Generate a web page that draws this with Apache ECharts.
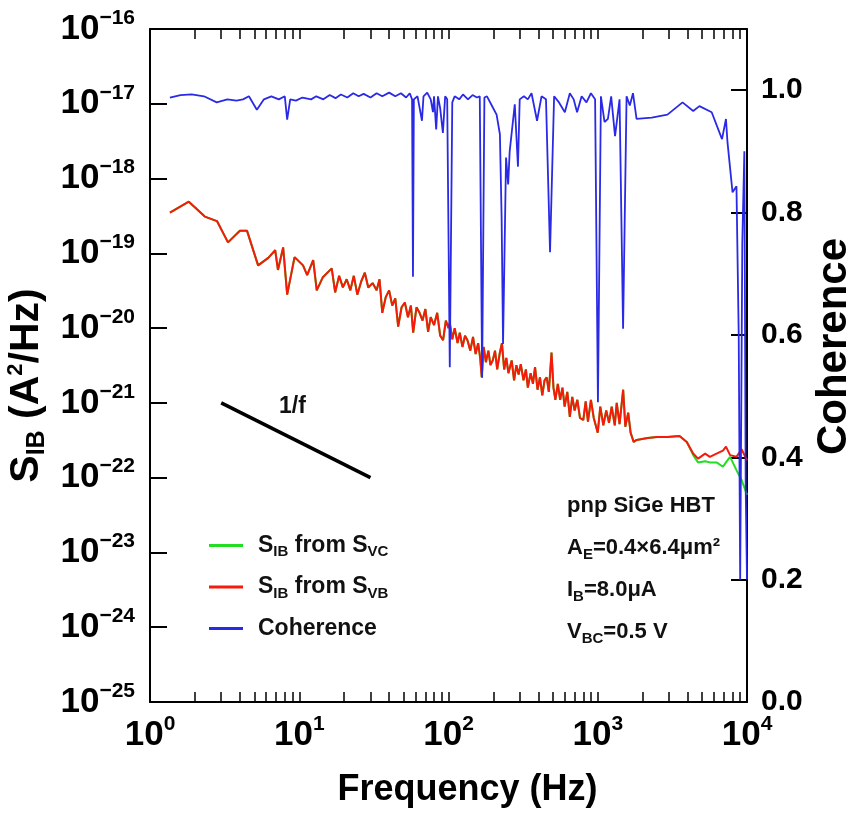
<!DOCTYPE html>
<html><head><meta charset="utf-8">
<script src="https://cdn.jsdelivr.net/npm/echarts@6/dist/echarts.min.js"></script>
<style>html,body{margin:0;padding:0;background:#fff}#c{width:850px;height:819px}</style>
</head><body><div id="c"></div>
<script>
// ---- data ----
const freqS = [
  1.36,1.82,2.33,2.81,3.33,4.0,4.47,5.3,6.2,6.9,7.2,7.8,8.3,9.3,10.6,11.3,12.4,13.1,14.4,16.5,17.4,
  18.5,19.6,20.8,22,23.2,24.5,26,27.5,29,31,
  33,34.5,36,38,40,42,44,46,48.5,51,
  53.5,56,58,61,64,67,70,73,76,80,
  84,88,92,96,100,
  102,106,110,115,119,124,129,134,140,146,
  152,158,163,167,172,178,185,191,198,205,
  212,220,228,236,244,252,265,275,285,295,
  305,318,330,340,355,368,380,395,410,425,
  440,455,470,490,505,520,540,560,580,600,
  625,650,675,700,730,760,800,830,860,900,
  940,1000,1040,1090,1140,1190,1240,1300,1340,1400,
  1480,1530,1600,1660,1740,
  1820,2160,2500,2930,3530,3950,4360,4700,5240,5640,6250,6900,7230,7700,8500,9200,10000
];
const sibFromSvb = [
  3.5e-19,4.9e-19,3.1e-19,2.7e-19,1.4e-19,2.0e-19,2.0e-19,6.9e-20,8.7e-20,1.1e-19,6.0e-20,1.2e-19,2.8e-20,8.9e-20,6.9e-20,5.1e-20,8.1e-20,3.2e-20,4.8e-20,6.3e-20,3.0e-20,
  5.0e-20,3.5e-20,4.5e-20,3.2e-20,5.0e-20,2.8e-20,4.2e-20,5.5e-20,3.5e-20,4.0e-20,
  3.2e-20,4.5e-20,1.6e-20,2.6e-20,3.2e-20,2.0e-20,2.5e-20,1.05e-20,1.9e-20,2.2e-20,
  1.4e-20,2.0e-20,8.7e-21,1.9e-20,1.6e-20,1.26e-20,1.8e-20,8.9e-21,1.4e-20,1.1e-20,
  1.6e-20,7.9e-21,6.9e-21,1.26e-20,1.0e-20,
  1.17e-20,7.1e-21,1.0e-20,6.3e-21,8.7e-21,5.6e-21,7.9e-21,6.9e-21,5.0e-21,7.6e-21,
  4.5e-21,6.3e-21,4.0e-21,2.2e-21,5.6e-21,3.5e-21,5.0e-21,3.2e-21,3.7e-21,5.0e-21,
  2.8e-21,4.5e-21,6.3e-21,2.8e-21,4.0e-21,2.5e-21,3.7e-21,2.0e-21,3.2e-21,2.4e-21,
  3.3e-21,2.0e-21,2.8e-21,1.6e-21,2.5e-21,1.8e-21,3.0e-21,1.5e-21,2.2e-21,1.26e-21,
  2.0e-21,2.2e-21,1.4e-21,4.7e-21,1.6e-21,1.1e-21,1.8e-21,1.1e-21,1.6e-21,8.9e-22,
  1.4e-21,6.5e-22,1.2e-21,7.9e-22,1.1e-21,6.3e-22,5.9e-22,1.05e-21,5.6e-22,1.1e-21,
  6.3e-22,4.0e-22,8.9e-22,5.0e-22,7.9e-22,5.4e-22,8.9e-22,5.0e-22,1.0e-21,5.2e-22,
  1.5e-21,4.8e-22,7.4e-22,4.0e-22,3.0e-22,
  3.2e-22,3.4e-22,3.5e-22,3.5e-22,3.6e-22,3.0e-22,2.1e-22,1.8e-22,2.1e-22,1.9e-22,2.1e-22,2.3e-22,2.6e-22,2.0e-22,1.9e-22,2.4e-22,1.7e-22
];
// S_IB from S_VC follows the S_VB curve except for its last 11 points
const sibFromSvcTail = [2.0e-22,1.6e-22,1.66e-22,1.6e-22,1.6e-22,1.4e-22,1.6e-22,1.9e-22,1.26e-22,9.3e-23,5.9e-23];

const freqC = [
  1.36,1.6,1.9,2.3,2.8,3.3,3.8,4.2,4.6,5.2,
  5.8,6.5,7.3,8.0,8.3,8.7,9.5,10.5,12,13,
  14.5,16,17.5,19,21,23,25,27,30,33,
  36,40,44,48,52,55,57,57.8,58.6,62,
  66.4,68,72,76,78.7,80,82.7,85,88,91.7,
  95,98,102,106,110,118,125,135,145,155,
  162,168,174,181,195,210,221,227,232,243,
  251,257,278,292,300,320,340,360,392,420,
  450,479,510,550,602,650,690,727,780,840,
  900,960,1003,1050,1110,1170,1230,1306,1400,1478,
  1560,1640,1722,1820,2300,2930,3700,4360,4800,5800,
  6800,7230,7400,8000,8500,8800,9000,9300,9600,9800,
  10000
];
const coherence = [
  0.988,0.992,0.993,0.99,0.98,0.985,0.983,0.985,0.99,0.968,
  0.985,0.99,0.985,0.99,0.952,0.985,0.983,0.988,0.985,0.99,
  0.985,0.992,0.987,0.993,0.988,0.995,0.99,0.994,0.988,0.995,
  0.99,0.996,0.99,0.995,0.988,0.995,0.985,0.695,0.985,0.99,
  0.95,0.99,0.996,0.985,0.964,0.99,0.936,0.99,0.97,0.93,
  0.99,0.985,0.547,0.98,0.99,0.985,0.993,0.985,0.992,0.988,
  0.99,0.53,0.988,0.99,0.975,0.96,0.928,0.79,0.585,0.89,
  0.846,0.90,0.977,0.875,0.985,0.99,0.985,0.995,0.95,0.99,
  0.985,0.735,0.99,0.98,0.964,0.995,0.985,0.964,0.99,0.98,
  0.995,0.985,0.49,0.99,0.948,0.953,0.99,0.925,0.985,0.61,
  0.99,0.975,0.995,0.953,0.955,0.96,0.98,0.966,0.974,0.964,
  0.92,0.953,0.915,0.833,0.843,0.6,0.2,0.75,0.9,0.35,
  0.2
];
const oneOverF = [[3, 1e-21], [30, 1e-22]];

const xTickValues = [1,2,3,4,5,6,7,8,9,10,20,30,40,50,60,70,80,90,100,200,300,400,500,600,700,800,900,1000,2000,3000,4000,5000,6000,7000,8000,9000,10000];
const xLabelValues = [1,10,100,1000,10000];
const yLabelValues = [1e-25,1e-24,1e-23,1e-22,1e-21,1e-20,1e-19,1e-18,1e-17,1e-16];
const cohTicks = {min: 0, max: 1.1, interval: 0.2};

// ---- build ----
const sibFromSvc = sibFromSvb.slice(0, sibFromSvb.length - sibFromSvcTail.length).concat(sibFromSvcTail);
const pairs = (xs, ys) => xs.map((x, i) => [x, ys[i]]);

const FONT = '"Liberation Sans",Arial,sans-serif';
const expRich = {
  b: {fontFamily: FONT, fontWeight: 'bold', fontSize: 35, color: '#000'},
  s: {fontFamily: FONT, fontWeight: 'bold', fontSize: 21, color: '#000', padding: [0, 0, 22, 0]}
};
const expFmt = v => {
  const e = Math.round(Math.log10(v));
  return '{b|10}{s|' + (e < 0 ? '\u2212' + (-e) : e) + '}';
};

const chart = echarts.init(document.getElementById('c'), null, {renderer: 'canvas'});
const black = {color: '#000', width: 2};
const legendRich = {
  m: {fontFamily: FONT, fontWeight: 'bold', fontSize: 23, color: '#111'},
  s: {fontFamily: FONT, fontWeight: 'bold', fontSize: 15, color: '#111', padding: [13, 0, 0, 0]}
};
const annRich = {
  m: {fontFamily: FONT, fontWeight: 'bold', fontSize: 22, fill: '#111'},
  s: {fontFamily: FONT, fontWeight: 'bold', fontSize: 15, fill: '#111', padding: [13, 0, 0, 0]}
};

chart.setOption({
  animation: false,
  backgroundColor: '#fff',
  grid: {left: 150, right: 103, top: 29, bottom: 117, containLabel: false, outerBoundsMode: 'none'},
  legend: {
    orient: 'vertical', left: 204, top: 529, itemWidth: 34, itemHeight: 3, itemGap: 16,
    icon: 'rect',
    data: ['svc', 'svb', 'coh'],
    formatter: n => n === 'svc' ? '{m|S}{s|IB}{m| from S}{s|VC}' : n === 'svb' ? '{m|S}{s|IB}{m| from S}{s|VB}' : '{m|Coherence}',
    textStyle: {rich: legendRich, padding: [0, 0, 0, 10]}
  },
  xAxis: [{
    type: 'log', logBase: 10, min: 1, max: 10000, position: 'bottom',
    axisLine: {show: true, onZero: false, lineStyle: black},
    axisTick: {show: true, inside: true, length: 10, customValues: xTickValues, lineStyle: {color: '#000', width: 1.5}},
    axisLabel: {customValues: xLabelValues, margin: 12, formatter: expFmt, rich: expRich},
    splitLine: {show: false},
    name: 'Frequency (Hz)', nameLocation: 'middle', nameGap: 70,
    nameTextStyle: {fontFamily: FONT, fontWeight: 'bold', fontSize: 36, color: '#000', padding: [0, 0, 0, 38]}
  }, {
    type: 'log', logBase: 10, min: 1, max: 10000, position: 'top',
    axisLine: {show: true, onZero: false, lineStyle: black},
    axisTick: {show: true, inside: true, length: 10, customValues: xTickValues, lineStyle: {color: '#000', width: 1.5}},
    axisLabel: {show: false},
    splitLine: {show: false}
  }],
  yAxis: [{
    type: 'log', logBase: 10, min: 1e-25, max: 1e-16, position: 'left',
    axisLine: {show: true, onZero: false, lineStyle: black},
    axisTick: {show: true, inside: true, length: 17, customValues: yLabelValues, lineStyle: {color: '#000', width: 2}},
    axisLabel: {customValues: yLabelValues, margin: 15, formatter: expFmt, rich: expRich},
    splitLine: {show: false},
    name: '{b|S}{s|IB}{b| (A}{p|2}{b|/Hz)}', nameLocation: 'middle', nameRotate: 90, nameGap: 94,
    nameTextStyle: {padding: [0, 40, 0, 0], rich: {
      b: {fontFamily: FONT, fontWeight: 'bold', fontSize: 41, color: '#000'},
      s: {fontFamily: FONT, fontWeight: 'bold', fontSize: 25, color: '#000', padding: [20, 0, 0, 0]},
      p: {fontFamily: FONT, fontWeight: 'bold', fontSize: 22, color: '#000', padding: [0, 0, 22, 0]}
    }}
  }, {
    type: 'value', min: cohTicks.min, max: cohTicks.max, interval: cohTicks.interval, position: 'right',
    axisLine: {show: true, onZero: false, lineStyle: black},
    axisTick: {show: true, inside: true, length: 16, lineStyle: {color: '#000', width: 2}},
    axisLabel: {margin: 14, showMaxLabel: false, formatter: v => v.toFixed(1),
      fontFamily: FONT, fontWeight: 'bold', fontSize: 30, color: '#000'},
    splitLine: {show: false},
    name: 'Coherence', nameLocation: 'middle', nameRotate: 90, nameGap: 66,
    nameTextStyle: {fontFamily: FONT, fontWeight: 'bold', fontSize: 42, color: '#000', padding: [0, 0, 0, 38]}
  }],
  graphic: [
    {type: 'text', left: 279, top: 395, style: {text: '1/f', font: 'bold 23px ' + FONT, fill: '#111'}},
    {type: 'text', left: 567, top: 495, style: {text: '{m|pnp SiGe HBT}', rich: annRich}},
    {type: 'text', left: 567, top: 537, style: {text: '{m|A}{s|E}{m|=0.4\u00d76.4\u03bcm\u00b2}', rich: annRich}},
    {type: 'text', left: 567, top: 579, style: {text: '{m|I}{s|B}{m|=8.0\u03bcA}', rich: annRich}},
    {type: 'text', left: 567, top: 621, style: {text: '{m|V}{s|BC}{m|=0.5 V}', rich: annRich}}
  ],
  series: [
    {name: 'svc', type: 'line', xAxisIndex: 0, yAxisIndex: 0, data: pairs(freqS, sibFromSvc),
      showSymbol: false, lineStyle: {color: '#22dd22', width: 2}, itemStyle: {color: '#22dd22'}, z: 2},
    {name: 'svb', type: 'line', xAxisIndex: 0, yAxisIndex: 0, data: pairs(freqS, sibFromSvb),
      showSymbol: false, lineStyle: {color: '#f51a0a', width: 2}, itemStyle: {color: '#f51a0a'}, z: 3},
    {name: 'coh', type: 'line', xAxisIndex: 0, yAxisIndex: 1, data: pairs(freqC, coherence),
      showSymbol: false, lineStyle: {color: '#2a2ae6', width: 1.8}, itemStyle: {color: '#2a2ae6'}, z: 4},
    {name: '1/f', type: 'line', xAxisIndex: 0, yAxisIndex: 0, data: oneOverF,
      showSymbol: false, lineStyle: {color: '#000', width: 3.5}, itemStyle: {color: '#000'}, z: 5}
  ]
});
</script></body></html>
